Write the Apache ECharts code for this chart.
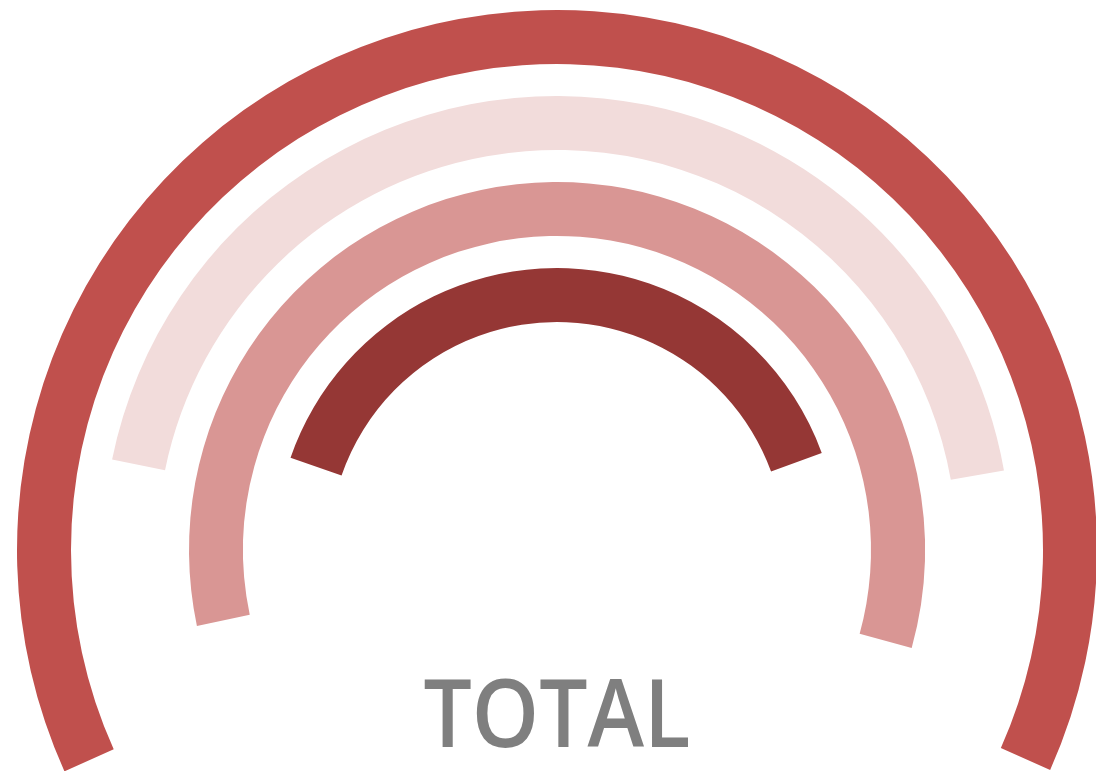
<!DOCTYPE html>
<html>
<head>
<meta charset="utf-8">
<title>TOTAL</title>
<script src="https://cdn.jsdelivr.net/npm/echarts@6/dist/echarts.min.js"></script>
<style>
  html, body { margin: 0; padding: 0; background: #ffffff; }
  #chart { width: 1096px; height: 771px; }
</style>
</head>
<body>
<div id="chart"></div>
<script>
// Rings from outermost to innermost
const ringNames = ['Ring 1', 'Ring 2', 'Ring 3', 'Ring 4'];
// Share of the full circle covered by each arc (%)
const ringValues = [63.4, 44.0, 57.6, 39.1];
// Angle where each arc begins (degrees, counter-clockwise from 3 o'clock); arcs run clockwise
const ringStartAngles = [204.2, 168.5, 191.9, 160.9];
const ringColors = ['#C0504D', '#F2DCDB', '#D99694', '#953735'];
const centreLabel = 'TOTAL';

// Ring geometry (px): outer radius of the first ring, band width, gap between bands
const outerRadius = 540;
const bandWidth = 54;
const bandGap = 32;
const centre = [557, 550];

const series = ringValues.map((v, i) => {
  const rOut = outerRadius - i * (bandWidth + bandGap);
  return {
    type: 'pie',
    name: ringNames[i],
    center: centre,
    radius: [rOut - bandWidth, rOut],
    startAngle: ringStartAngles[i],
    clockwise: true,
    silent: true,
    avoidLabelOverlap: false,
    label: { show: false },
    labelLine: { show: false },
    emphasis: { disabled: true },
    itemStyle: { borderWidth: 0 },
    data: [
      { name: ringNames[i], value: v, itemStyle: { color: ringColors[i] } },
      { name: '', value: 100 - v, itemStyle: { color: 'rgba(0,0,0,0)' } }
    ]
  };
});

const chart = echarts.init(document.getElementById('chart'), null, { renderer: 'canvas' });
chart.setOption({
  animation: false,
  backgroundColor: '#ffffff',
  series: series,
  graphic: [{
    type: 'text',
    x: 557,
    y: 673,
    scaleX: 0.91,
    style: {
      text: centreLabel,
      fill: '#7F7F7F',
      align: 'center',
      verticalAlign: 'top',
      font: '600 94px "Open Sans", "Noto Sans", sans-serif'
    }
  }]
});
</script>
</body>
</html>
